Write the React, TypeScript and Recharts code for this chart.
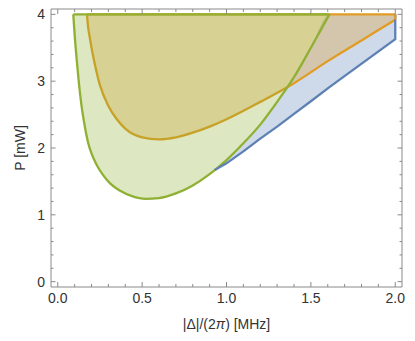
import { ComposedChart, Area, Line, XAxis, YAxis, Label } from "recharts";

// |Δ|/(2π) in MHz against P in mW
const pMax = 4;

// green region: P above this curve (U shape)
const greenDelta = [0.092, 0.1, 0.112, 0.125, 0.14, 0.16, 0.18, 0.2, 0.23, 0.27, 0.31, 0.37, 0.44, 0.52, 0.6, 0.7, 0.8, 0.9, 1.0, 1.1, 1.2, 1.3, 1.4, 1.5, 1.61];
const greenP = [4, 3.7, 3.33, 2.98, 2.65, 2.33, 2.08, 1.92, 1.75, 1.59, 1.47, 1.36, 1.28, 1.24, 1.25, 1.32, 1.44, 1.61, 1.82, 2.07, 2.35, 2.69, 3.06, 3.5, 4];

// orange region: P above this curve
const orangeDelta = [0.173, 0.18, 0.19, 0.2, 0.22, 0.25, 0.3, 0.35, 0.4, 0.5, 0.6, 0.7, 0.8, 0.9, 1.0, 1.2, 1.4, 1.6, 1.8, 2.0];
const orangeP = [4, 3.81, 3.65, 3.5, 3.25, 2.94, 2.63, 2.43, 2.29, 2.16, 2.13, 2.16, 2.23, 2.32, 2.43, 2.69, 2.97, 3.3, 3.61, 3.92];

// blue region: between the straight-ish lower edge and the green branch / top
const blueDelta = [0.93, 1.0, 1.1, 1.2, 1.3, 1.4, 1.5, 1.61, 1.75, 2.0];
const blueLow = [1.67, 1.77, 1.95, 2.14, 2.32, 2.51, 2.7, 2.91, 3.17, 3.63];
const blueHigh = [1.67, 1.82, 2.07, 2.35, 2.69, 3.06, 3.5, 4, 4, 4];

const xMajor = [0, 0.5, 1, 1.5, 2];
const yMajor = [0, 1, 2, 3, 4];
const xTicks = Array.from({ length: 21 }, (_, i) => i / 10);
const yTicks = Array.from({ length: 21 }, (_, i) => Math.round(i * 2) / 10);

const greenData = greenDelta.map((x, i) => ({ x, range: [greenP[i], pMax] }));
const orangeData = orangeDelta.map((x, i) => ({ x, range: [orangeP[i], pMax] }));
const blueData = blueDelta.map((x, i) => ({ x, range: [blueLow[i], blueHigh[i]] }));
const blueEdge = [...blueDelta.map((x, i) => ({ x, y: blueLow[i] })), { x: 2, y: pMax }];
const orangeEdge = [{ x: 2, y: orangeP[orangeP.length - 1] }, { x: 2, y: pMax }];

const BLUE = "#5E81B5";
const ORANGE = "#E19C24";
const GREEN = "#8FB032";
const FRAME = "#8a8a8a";
const TEXT = "#333";
const FONT = "'Liberation Sans', Arial, sans-serif";
const LW = 2.3;

const isMajor = (v: number, list: number[]) => list.some((m) => Math.abs(m - v) < 1e-6);

const BottomTick = (p: any) => {
  const major = isMajor(p.payload.value, xMajor);
  return (
    <g>
      <line x1={p.x} x2={p.x} y1={p.y} y2={p.y - (major ? 5 : 3)} stroke={FRAME} />
      {major && (
        <text x={p.x} y={p.y + 16} textAnchor="middle" fontSize={14} fontFamily={FONT} fill={TEXT}>
          {p.payload.value.toFixed(1)}
        </text>
      )}
    </g>
  );
};

const TopTick = (p: any) => {
  const major = isMajor(p.payload.value, xMajor);
  return <line x1={p.x} x2={p.x} y1={p.y} y2={p.y + (major ? 5 : 3)} stroke={FRAME} />;
};

const LeftTick = (p: any) => {
  const major = isMajor(p.payload.value, yMajor);
  return (
    <g>
      <line x1={p.x} x2={p.x + (major ? 4.5 : 2.5)} y1={p.y} y2={p.y} stroke={FRAME} />
      {major && (
        <text x={p.x - 6} y={p.y + 5} textAnchor="end" fontSize={14} fontFamily={FONT} fill={TEXT}>
          {p.payload.value}
        </text>
      )}
    </g>
  );
};

const RightTick = (p: any) => {
  const major = isMajor(p.payload.value, yMajor);
  return <line x1={p.x} x2={p.x - (major ? 4.5 : 2.5)} y1={p.y} y2={p.y} stroke={FRAME} />;
};

const App = () => {
  return (
    <div style={{ marginTop: -8 }}>
      <ComposedChart width={407} height={341} margin={{ top: 8, right: 12, bottom: 0, left: 0 }}>
        <XAxis
          xAxisId="b"
          type="number"
          dataKey="x"
          domain={[-0.04, 2.04]}
          allowDataOverflow
          ticks={xTicks}
          interval={0}
          tick={<BottomTick />}
          tickLine={false}
          tickSize={0}
          tickMargin={0}
          height={54}
          stroke={FRAME}
        >
          <Label
            content={(lp: any) => {
              const vb = lp.viewBox;
              return (
                <text x={vb.x + vb.width / 2} y={vb.y + 42} textAnchor="middle" fontSize={14} fontFamily={FONT} fill={TEXT}>
                  |Δ|/(2<tspan fontStyle="italic">π</tspan>) [MHz]
                </text>
              );
            }}
          />
        </XAxis>
        <XAxis
          xAxisId="t"
          orientation="top"
          type="number"
          dataKey="x"
          domain={[-0.04, 2.04]}
          allowDataOverflow
          ticks={xTicks}
          interval={0}
          tick={<TopTick />}
          tickLine={false}
          tickSize={0}
          tickMargin={0}
          height={1}
          stroke={FRAME}
        />
        <YAxis
          yAxisId="l"
          type="number"
          domain={[-0.08, 4.08]}
          allowDataOverflow
          ticks={yTicks}
          interval={0}
          tick={<LeftTick />}
          tickLine={false}
          tickSize={0}
          tickMargin={0}
          width={43}
          stroke={FRAME}
        >
          <Label
            content={(lp: any) => {
              const vb = lp.viewBox;
              const cx = vb.x + 12;
              const cy = vb.y + vb.height / 2;
              return (
                <text x={cx} y={cy} transform={`rotate(-90 ${cx} ${cy})`} textAnchor="middle" dominantBaseline="central" fontSize={14} fontFamily={FONT} fill={TEXT}>
                  P [mW]
                </text>
              );
            }}
          />
        </YAxis>
        <YAxis
          yAxisId="r"
          orientation="right"
          type="number"
          domain={[-0.08, 4.08]}
          allowDataOverflow
          ticks={yTicks}
          interval={0}
          tick={<RightTick />}
          tickLine={false}
          tickSize={0}
          tickMargin={0}
          width={1}
          stroke={FRAME}
        />

        <Area
          xAxisId="b"
          yAxisId="l"
          data={blueData}
          dataKey="range"
          type="monotone"
          fill={BLUE}
          fillOpacity={0.3}
          stroke="none"
          dot={false}
          activeDot={false}
          isAnimationActive={false}
        />
        <Line
          xAxisId="b"
          yAxisId="l"
          data={blueEdge}
          dataKey="y"
          type="linear"
          stroke={BLUE}
          strokeWidth={LW}
          dot={false}
          activeDot={false}
          isAnimationActive={false}
        />
        <Area
          xAxisId="b"
          yAxisId="l"
          data={orangeData}
          dataKey="range"
          type="monotone"
          fill={ORANGE}
          fillOpacity={0.3}
          stroke={ORANGE}
          strokeWidth={LW}
          dot={false}
          activeDot={false}
          isAnimationActive={false}
        />
        <Line
          xAxisId="b"
          yAxisId="l"
          data={orangeEdge}
          dataKey="y"
          type="linear"
          stroke={ORANGE}
          strokeWidth={LW}
          dot={false}
          activeDot={false}
          isAnimationActive={false}
        />
        <Area
          xAxisId="b"
          yAxisId="l"
          data={greenData}
          dataKey="range"
          type="monotone"
          fill={GREEN}
          fillOpacity={0.3}
          stroke={GREEN}
          strokeWidth={LW}
          dot={false}
          activeDot={false}
          isAnimationActive={false}
        />
      </ComposedChart>
    </div>
  );
};

export default App;
